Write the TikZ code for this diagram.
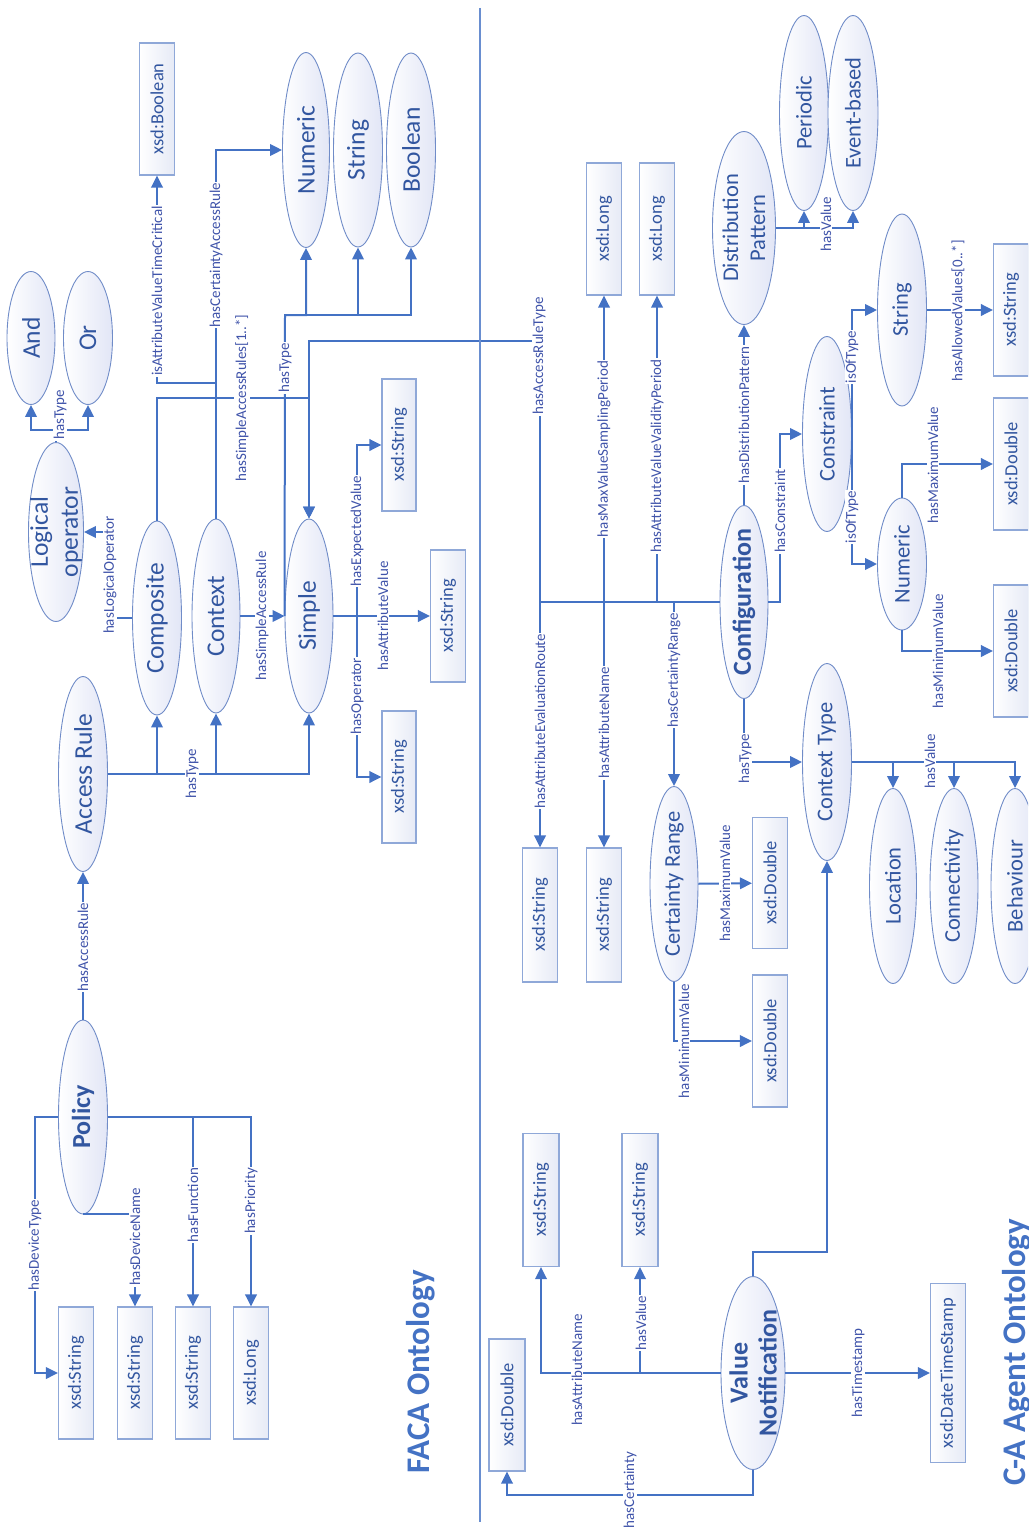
\documentclass[tikz,border=0pt]{standalone}
\usepackage{fontspec}
\setmainfont{Carlito}
\usetikzlibrary{shapes.geometric,arrows.meta}

\begin{document}
\begin{tikzpicture}[x=1pt,y=-1pt,>={Triangle[length=12pt,width=11.5pt]}]
	%---------------- Colors & styles ----------------
	\definecolor{wireblue}{RGB}{68,114,196} % connectors and titles
	\definecolor{ellline}{RGB}{112,140,200}
	\definecolor{ellfill}{RGB}{226,230,246}
	\definecolor{boxline}{RGB}{143,168,216}
	\definecolor{boxfill}{RGB}{230,234,246}
	\definecolor{txtblue}{RGB}{50,86,160}
	\definecolor{labblue}{RGB}{64,84,170}
	\tikzset{
		wire/.style={draw=wireblue, line width=2pt},
		arr/.style={wire, ->},
		ell/.style 2 args={ellipse, draw=ellline, line width=0.9pt, left color=white, right color=ellfill,
			minimum width=#2pt, minimum height=#1pt, inner sep=0pt},
		dtype/.style 2 args={rectangle, draw=boxline, line width=1.1pt, left color=white, right color=boxfill,
			minimum width=#2pt, minimum height=#1pt, inner sep=0pt},
		etxt/.style={rotate=90, text=txtblue, align=center, font=\fontsize{25.5}{30}\selectfont},
		etxts/.style={etxt, font=\fontsize{22.5}{27}\selectfont},
		etxtb/.style={etxt, font=\bfseries\fontsize{26}{29}\selectfont},
		dtxt/.style={rotate=90, text=txtblue, font=\fontsize{18.5}{22}\selectfont},
		lab/.style={rotate=90, fill=white, inner sep=1pt, text=labblue, font=\fontsize{15}{17}\selectfont},
		ontotitle/.style={rotate=90, text=wireblue, font=\bfseries\fontsize{33}{36}\selectfont},
		divider/.style={draw=wireblue!80, line width=1.4pt},
	}
	
	%---------------- Sizes ----------------
	\def\eL{194} % ellipse length
	\def\eT{49}  % ellipse thickness
	\def\bL{132} % datatype box length
	\def\bT{35}  % datatype box thickness
	
	\useasboundingbox (0,0) rectangle (1028,1533);
	\clip (0,0) rectangle (1028,1533);
	
	%---------------- FACA classes ----------------
	\node[ell={133}{48}, label={[etxt]center:And}] (andop) at (31,338) {};
	\node[ell={133}{49}, label={[etxt]center:Or}] (orop) at (88,338) {};
	\node[ell={179}{55}, label={[etxt]center:{Logical\\operator}}] (logop) at (56,532) {};
	\node[ell={\eL}{\eT}, label={[etxt]center:Composite}] (composite) at (157,618) {};
	\node[ell={\eL}{48}, label={[etxt]center:Context}] (context) at (216,616) {};
	\node[ell={\eL}{48}, label={[etxt]center:Simple}] (simple) at (309,616) {};
	\node[ell={195}{\eT}, label={[etxt]center:Access Rule}] (accrule) at (83,774) {};
	\node[ell={\eL}{\eT}, label={[etxtb]center:Policy}] (policy) at (83,1117) {};
	\node[ell={195}{47}, label={[etxt]center:Numeric}] (tnum) at (306,150) {};
	\node[ell={\eL}{\eT}, label={[etxt]center:String}] (tstr) at (358,150) {};
	\node[ell={\eL}{\eT}, label={[etxt]center:Boolean}] (tbool) at (411,150) {};
	
	%---------------- FACA datatypes ----------------
	\node[dtype={\bL}{\bT}, label={[dtxt]center:{xsd:Boolean}}] (xbool) at (157,109) {};
	\node[dtype={\bL}{34}, label={[dtxt]center:{xsd:String}}] (xexp) at (399,445) {};
	\node[dtype={\bL}{\bT}, label={[dtxt]center:{xsd:String}}] (xattv) at (448,616) {};
	\node[dtype={\bL}{34}, label={[dtxt]center:{xsd:String}}] (xop) at (399,777) {};
	\node[dtype={\bL}{\bT}, label={[dtxt]center:{xsd:String}}] (xdtype) at (76,1373) {};
	\node[dtype={\bL}{\bT}, label={[dtxt]center:{xsd:String}}] (xdname) at (135,1373) {};
	\node[dtype={\bL}{\bT}, label={[dtxt]center:{xsd:String}}] (xfunc) at (193,1373) {};
	\node[dtype={\bL}{\bT}, label={[dtxt]center:{xsd:Long}}] (xprio) at (251,1373) {};
	
	%---------------- C-A classes ----------------
	\node[ell={193}{48}, label={[etxtb]center:Configuration}] (config) at (744,602) {};
	\node[ell={193}{63}, label={[etxts]center:{Distribution\\Pattern}}] (distp) at (744,228) {};
	\node[ell={195}{\eT}, label={[etxts]center:Periodic}] (periodic) at (804,113) {};
	\node[ell={195}{50}, label={[etxts]center:Event-based}] (eventb) at (853,113) {};
	\node[ell={195}{\eT}, label={[etxts]center:Constraint}] (constr) at (827,434) {};
	\node[ell={192}{\eT}, label={[etxts]center:String}] (strb) at (902,310) {};
	\node[ell={132}{\eT}, label={[etxts]center:Numeric}] (numb) at (902,564) {};
	\node[ell={197}{\eT}, label={[etxts]center:Context Type}] (ctype) at (827,762) {};
	\node[ell={195}{47}, label={[etxts]center:Location}] (location) at (893,886) {};
	\node[ell={195}{48}, label={[etxts]center:Connectivity}] (connect) at (954,886) {};
	\node[ell={195}{48}, label={[etxts]center:Behaviour}] (behav) at (1015,886) {};
	\node[ell={195}{48}, label={[etxts]center:Certainty Range}] (certr) at (674,884) {};
	\node[ell={193}{64}, label={[etxtb]center:{Value\\Notification}}] (valnot) at (753,1373) {};
	
	%---------------- C-A datatypes ----------------
	\node[dtype={\bL}{\bT}, label={[dtxt]center:{xsd:Long}}] (xlong1) at (604,229) {};
	\node[dtype={\bL}{\bT}, label={[dtxt]center:{xsd:Long}}] (xlong2) at (657,229) {};
	\node[dtype={\bL}{\bT}, label={[dtxt]center:{xsd:String}}] (xstrs) at (1011,310) {};
	\node[dtype={\bL}{\bT}, label={[dtxt]center:{xsd:Double}}] (xdblmax) at (1011,464) {};
	\node[dtype={\bL}{\bT}, label={[dtxt]center:{xsd:Double}}] (xdblmin) at (1011,651) {};
	\node[dtype={134}{\bT}, label={[dtxt]center:{xsd:String}}] (xevr) at (540,915) {};
	\node[dtype={134}{\bT}, label={[dtxt]center:{xsd:String}}] (xattn) at (604,915) {};
	\node[dtype={131}{\bT}, label={[dtxt]center:{xsd:Double}}] (xcrmax) at (770,883) {};
	\node[dtype={\bL}{\bT}, label={[dtxt]center:{xsd:Double}}] (xcrmin) at (770,1041) {};
	\node[dtype={133}{36}, label={[dtxt]center:{xsd:String}}] (xvnattn) at (541,1200) {};
	\node[dtype={133}{36}, label={[dtxt]center:{xsd:String}}] (xvnval) at (640,1200) {};
	\node[dtype={\bL}{36}, label={[dtxt]center:{xsd:Double}}] (xvncert) at (507,1405) {};
	\node[dtype={179}{\bT}, label={[dtxt]center:{xsd:DateTimeStamp}}] (xdts) at (948,1373) {};
	
	%---------------- Bend points ----------------
	\coordinate (lo) at (56,430);
	\coordinate (lk) at (110,532);
	\coordinate (c1) at (157,398);
	\coordinate (c2) at (285,315);
	\coordinate (c3) at (216,383);
	\coordinate (c5) at (357,616);
	\coordinate (c6) at (35,1117);
	\coordinate (c7) at (540,341);
	\coordinate (c8) at (780,520);
	\coordinate (c9) at (753,1252);
	\coordinate (c10) at (753,1495);
	
	%---------------- Connectors: FACA ----------------
	\draw[arr] (logop) -- (lo) -| (andop);
	\draw[arr] (lo) -| (orop);
	\draw[arr] (composite) -| (lk) -- (logop);
	\draw[arr] (accrule) -| (composite);
	\draw[arr] (accrule) -| (context);
	\draw[arr] (accrule) -| (simple);
	\draw[arr] (context) -- (simple);
	\draw[arr] (composite) -- (c1) -| (simple);
	\draw[arr] (simple.west) -- (c2) -| (tnum);
	\draw[arr] (c2) -| (tstr);
	\draw[arr] (c2) -| (tbool);
	\draw[arr] (context) -- (c3) -| (xbool);
	\draw[arr] (context) |- (tnum);
	\draw[arr] (simple) -- (xattv);
	\draw[arr] (c5) |- (xexp);
	\draw[arr] (c5) |- (xop);
	\draw[arr] (policy) -- (accrule);
	\draw[arr] (policy) -- (c6) |- (xdtype);
	\draw[arr] (policy.south) -| (xdname);
	\draw[arr] (policy) -| (xfunc);
	\draw[arr] (policy) -| (xprio);
	
	%---------------- Connectors: C-A ----------------
	\draw[arr] (config) -| (c7) -| (simple);
	\draw[arr] (config) -| (xevr);
	\draw[arr] (config) -| (xattn);
	\draw[arr] (config) -| (xlong1);
	\draw[arr] (config) -| (xlong2);
	\draw[arr] (config) -| (certr);
	\draw[arr] (config) -- (distp);
	\draw[arr] (config) -| (c8) |- (constr);
	\draw[arr] (config) |- (ctype);
	\draw[arr] (distp) -| (periodic);
	\draw[arr] (distp) -| (eventb);
	\draw[arr] (constr.east) |- (strb);
	\draw[arr] (constr.east) |- (numb);
	\draw[arr] (strb) -- (xstrs);
	\draw[arr] (numb) |- (xdblmax);
	\draw[arr] (numb) |- (xdblmin);
	\draw[arr] (ctype) -| (location);
	\draw[arr] (ctype) -| (connect);
	\draw[arr] (ctype) -| (behav);
	\draw[arr] (certr) -- (xcrmax);
	\draw[arr] (certr) |- (xcrmin);
	\draw[arr] (valnot) -| (xvnattn);
	\draw[arr] (valnot) -| (xvnval);
	\draw[arr] (valnot) -- (xdts);
	\draw[arr] (valnot) -- (c9) -| (ctype);
	\draw[arr] (valnot) -- (c10) -| (xvncert);
	
	%---------------- Property labels: FACA ----------------
	\node[lab] (l-andor) at (60,415) {hasType};
	\node[lab] (l-logop) at (110,575) {hasLogicalOperator};
	\node[lab] (l-rtype) at (192,774) {hasType};
	\node[lab] (l-sar) at (262,616) {hasSimpleAccessRule};
	\node[lab] (l-sars) at (242,398) {hasSimpleAccessRules[1..*]};
	\node[lab] (l-stype) at (285,368) {hasType};
	\node[lab] (l-crit) at (157,291) {isAttributeValueTimeCritical};
	\node[lab] (l-car) at (216,255) {hasCertaintyAccessRule};
	\node[lab] (l-exp) at (357,531) {hasExpectedValue};
	\node[lab] (l-attv) at (383,616) {hasAttributeValue};
	\node[lab] (l-op) at (357,696) {hasOperator};
	\node[lab] (l-acc) at (83,947) {hasAccessRule};
	\node[lab] (l-dtype) at (35,1245) {hasDeviceType};
	\node[lab] (l-dname) at (135,1237) {hasDeviceName};
	\node[lab] (l-func) at (193,1205) {hasFunction};
	\node[lab] (l-prio) at (251,1201) {hasPriority};
	
	%---------------- Property labels: C-A ----------------
	\node[lab] (l-art) at (539,356) {hasAccessRuleType};
	\node[lab] (l-aer) at (540,721) {hasAttributeEvaluationRoute};
	\node[lab] (l-an) at (604,723) {hasAttributeName};
	\node[lab] (l-msp) at (604,449) {hasMaxValueSamplingPeriod};
	\node[lab] (l-vvp) at (657,456) {hasAttributeValueValidityPeriod};
	\node[lab] (l-cr) at (674,670) {hasCertaintyRange};
	\node[lab] (l-dp) at (744,415) {hasDistributionPattern};
	\node[lab] (l-con) at (780,511) {hasConstraint};
	\node[lab] (l-ctype) at (745,759) {hasType};
	\node[lab] (l-dpval) at (826,224) {hasValue};
	\node[lab] (l-iot1) at (852,357) {isOfType};
	\node[lab] (l-iot2) at (852,517) {isOfType};
	\node[lab] (l-allow) at (958,311) {hasAllowedValues[0..*]};
	\node[lab] (l-nmax) at (933,465) {hasMaximumValue};
	\node[lab] (l-nmin) at (938,651) {hasMinimumValue};
	\node[lab] (l-ctval) at (930,761) {hasValue};
	\node[lab] (l-crmax) at (725,883) {hasMaximumValue};
	\node[lab] (l-crmin) at (684,1041) {hasMinimumValue};
	\node[lab] (l-vnan) at (577,1370) {hasAttributeName};
	\node[lab] (l-vnval) at (641,1323) {hasValue};
	\node[lab] (l-ts) at (858,1373) {hasTimestamp};
	\node[lab] (l-cert) at (630,1490) {hasCertainty};
	
	%---------------- Divider & titles ----------------
	\draw[divider] (480,8) -- (480,1522);
	\node[ontotitle] (faca) at (421,1372) {FACA Ontology};
	\node[ontotitle] (caagent) at (1017,1352) {C-A Agent Ontology};
\end{tikzpicture}
\end{document}
